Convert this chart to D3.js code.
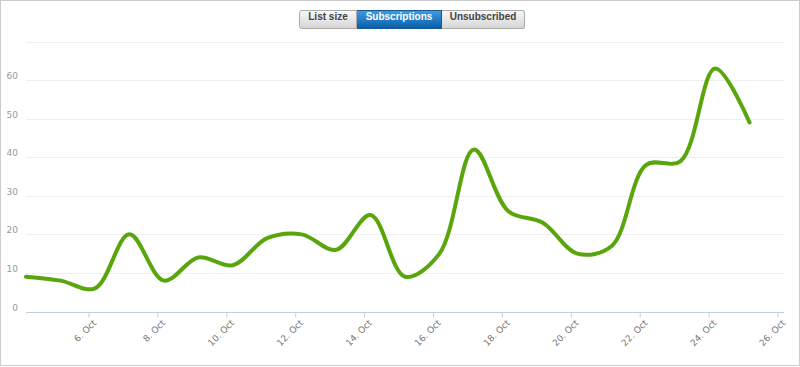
<!DOCTYPE html>
<html>
<head>
<meta charset="utf-8">
<script src="https://cdn.jsdelivr.net/npm/d3@7"></script>
<style>
  body { margin: 0; background: #fff; }
  #chart { position: relative; width: 800px; height: 367px; }
  .btns { position: absolute; left: 299px; top: 10px; display: flex; }
  .btn {
    height: 17px; line-height: 17px; font: bold 10px "Liberation Sans", Arial, sans-serif;
    color: #444; text-align: center; border: 1px solid #aaa;
    background: linear-gradient(#f8f8f8, #d6d6d6);
  }
  .btn + .btn { border-left: none; }
  .btn:first-child { border-radius: 3px 0 0 3px; }
  .btn:last-child { border-radius: 0 3px 3px 0; }
  .btn.on { color: #fff; background: linear-gradient(#3d9be0, #0a5fa8); border-color: #1a5a94; }
</style>
</head>
<body>
<div id="chart">
  <div class="btns"></div>
</div>
<script>
// daily values, 4 Oct to 25 Oct
var days = [4, 5, 6, 7, 8, 9, 10, 11, 12, 13, 14, 15, 16, 17, 18, 19, 20, 21, 22, 23, 24, 25];
var subs = [9, 8, 6, 20, 8, 14, 12, 19, 20, 16, 25, 9, 15, 42, 26, 23, 15, 17, 38, 39, 63, 49];
var yTicks = [0, 10, 20, 30, 40, 50, 60, 70];
var xTickDays = [6, 8, 10, 12, 14, 16, 18, 20, 22, 24, 26];
var buttons = ["List size", "Subscriptions", "Unsubscribed"];
var buttonWidths = [57, 85, 83];

var svgWidth = 800;
var svgHeight = 367;

// samples are taken at 04:30 each day
var pointDate = d => new Date(2012, 9, d, 4, 30);
var data = days.map((d, i) => ({date: pointDate(d), value: subs[i]}));

var svg = d3.select("#chart")
  .append("svg")
  .attr("width", svgWidth)
  .attr("height", svgHeight)
  .style("position", "absolute")
  .style("left", 0)
  .style("top", 0);

svg.append("rect")
  .attr("x", 0.5).attr("y", 0.5)
  .attr("width", svgWidth - 1).attr("height", svgHeight - 2)
  .attr("fill", "none")
  .attr("stroke", "#ccc");

var x = d3.scaleTime()
  .domain([pointDate(4), pointDate(26)])
  .range([26, 784]);

var y = d3.scaleLinear()
  .domain([0, 70])
  .range([311.5, 41.5]);

// grid lines
svg.append("g")
  .selectAll("line")
  .data(yTicks.slice(1))
  .enter()
  .append("line")
  .attr("x1", 26).attr("x2", 784)
  .attr("y1", d => Math.round(y(d)) + 0.5)
  .attr("y2", d => Math.round(y(d)) + 0.5)
  .attr("stroke", "#efefef");

// y labels
svg.append("g")
  .selectAll("text")
  .data(yTicks.slice(0, -1))
  .enter()
  .append("text")
  .attr("x", 18)
  .attr("y", d => y(d) - 1)
  .attr("text-anchor", "end")
  .attr("font-family", "DejaVu Sans, sans-serif")
  .attr("font-size", "9px")
  .attr("fill", "#999")
  .text(d => d);

// x axis
var xAxis = d3.axisBottom(x)
  .tickValues(xTickDays.map(d => new Date(2012, 9, d)))
  .tickSize(5)
  .tickFormat(d => d.getDate() + ". Oct");

var gx = svg.append("g")
  .attr("transform", `translate(0, ${Math.round(y(0)) + 0.5})`)
  .call(xAxis);

gx.select(".domain").attr("stroke", "#c0d0e0").attr("d", "M26,0H784");
gx.selectAll(".tick line").attr("stroke", "#c0d0e0");
gx.selectAll(".tick text")
  .attr("font-family", "DejaVu Sans, sans-serif")
  .attr("font-size", "9px")
  .attr("fill", "#777")
  .attr("text-anchor", "end")
  .attr("dy", null)
  .attr("y", 0)
  .attr("transform", "translate(8, 11) rotate(-45)");

// the line
var line = d3.line()
  .x(d => x(d.date))
  .y(d => y(d.value))
  .curve(d3.curveCatmullRom.alpha(0.5));

svg.append("path")
  .datum(data)
  .attr("d", line)
  .attr("fill", "none")
  .attr("stroke", "#59a50c")
  .attr("stroke-width", 4)
  .attr("stroke-linecap", "round")
  .attr("stroke-linejoin", "round");

// buttons
d3.select(".btns").selectAll("div")
  .data(buttons)
  .enter()
  .append("div")
  .attr("class", (d, i) => i == 1 ? "btn on" : "btn")
  .style("width", (d, i) => (buttonWidths[i] - 1) + "px")
  .text(d => d);
</script>
</body>
</html>
